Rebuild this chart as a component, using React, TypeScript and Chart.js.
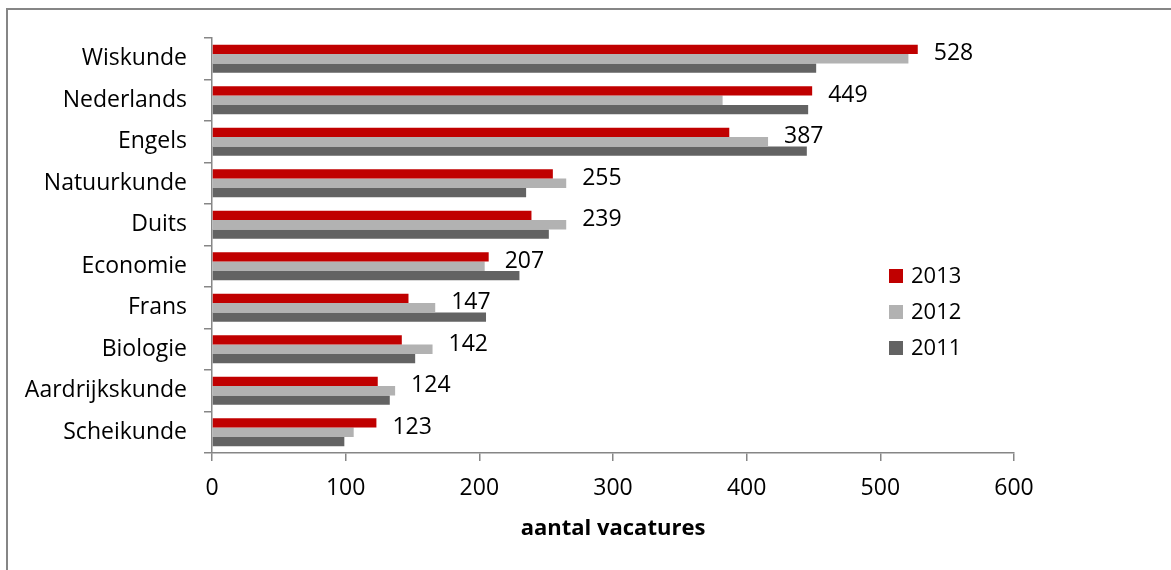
import React, { useEffect, useRef } from "react";
import { Chart, registerables } from "chart.js";

Chart.register(...registerables);

const categories = [
  "Wiskunde",
  "Nederlands",
  "Engels",
  "Natuurkunde",
  "Duits",
  "Economie",
  "Frans",
  "Biologie",
  "Aardrijkskunde",
  "Scheikunde",
];
const seriesLabels = ["2013", "2012", "2011"];
const values2013 = [528, 449, 387, 255, 239, 207, 147, 142, 124, 123];
const values2012 = [521, 382, 416, 265, 265, 204, 167, 165, 137, 106];
const values2011 = [452, 446, 445, 235, 252, 230, 205, 152, 133, 99];
const xTicks = [0, 100, 200, 300, 400, 500, 600];
const axisTitle = "aantal vacatures";

const COLORS = ["#C00000", "#B2B2B2", "#636363"];
const AXIS_COLOR = "#868686";
const FONT = "'Open Sans', Lato, sans-serif";
const FS = 23;

const framePlugin = {
  id: "frame",
  beforeDraw(chart: any) {
    const ctx = chart.ctx;
    ctx.save();
    ctx.fillStyle = "#ffffff";
    ctx.fillRect(0, 0, chart.width, chart.height);
    ctx.strokeStyle = AXIS_COLOR;
    ctx.lineWidth = 2;
    ctx.beginPath();
    ctx.moveTo(7, chart.height);
    ctx.lineTo(7, 9);
    ctx.lineTo(chart.width, 9);
    ctx.stroke();
    ctx.restore();
  },
};

const labelsPlugin = {
  id: "valueLabels",
  afterDatasetsDraw(chart: any) {
    const ctx = chart.ctx;
    const m0 = chart.getDatasetMeta(0);
    const m1 = chart.getDatasetMeta(1);
    ctx.save();
    ctx.font = `${FS}px ${FONT}`;
    ctx.fillStyle = "#000";
    ctx.textAlign = "left";
    ctx.textBaseline = "middle";
    m0.data.forEach((el: any, i: number) => {
      const x = Math.max(el.x, m1.data[i].x) + 16;
      ctx.fillText(String(values2013[i]), x, el.y + 4);
    });
    ctx.restore();
  },
};

const legendPlugin = {
  id: "customLegend",
  afterDraw(chart: any) {
    const ctx = chart.ctx;
    ctx.save();
    ctx.font = `${FS - 1}px ${FONT}`;
    ctx.textAlign = "left";
    ctx.textBaseline = "middle";
    chart.data.datasets.forEach((ds: any, i: number) => {
      const cy = 276 + i * 36;
      ctx.fillStyle = ds.backgroundColor;
      ctx.fillRect(889, cy - 7, 14, 14);
      ctx.fillStyle = "#000";
      ctx.fillText(ds.label, 911, cy + 1);
    });
    ctx.restore();
  },
};

export default function App() {
  const ref = useRef<HTMLCanvasElement | null>(null);

  useEffect(() => {
    document.body.style.margin = "0";
    if (!ref.current) return;
    const chart = new Chart(ref.current, {
      type: "bar",
      data: {
        labels: categories,
        datasets: [
          { label: seriesLabels[0], data: values2013, backgroundColor: COLORS[0] },
          { label: seriesLabels[1], data: values2012, backgroundColor: COLORS[1] },
          { label: seriesLabels[2], data: values2011, backgroundColor: COLORS[2] },
        ],
      },
      options: {
        indexAxis: "y",
        responsive: false,
        animation: false,
        layout: { padding: { left: 0, top: 38, right: 157, bottom: 24 } },
        datasets: {
          bar: { categoryPercentage: 0.67, barPercentage: 1, borderWidth: 0 },
        },
        plugins: {
          legend: { display: false },
          tooltip: { enabled: false },
        },
        scales: {
          y: {
            type: "category",
            grid: {
              offset: true,
              drawOnChartArea: false,
              tickLength: 8,
              color: AXIS_COLOR,
              lineWidth: 1.5,
            },
            border: { color: AXIS_COLOR, width: 1.5 },
            ticks: {
              padding: 17,
              color: "#000",
              font: { family: FONT, size: FS },
            },
            afterFit: (s: any) => {
              s.width = 212;
            },
          },
          x: {
            type: "linear",
            min: 0,
            max: 600,
            afterBuildTicks: (s: any) => {
              s.ticks = xTicks.map((v) => ({ value: v }));
            },
            grid: {
              drawOnChartArea: false,
              tickLength: 8,
              color: AXIS_COLOR,
              lineWidth: 1.5,
            },
            border: { color: AXIS_COLOR, width: 1.5 },
            ticks: {
              padding: 14,
              color: "#000",
              font: { family: FONT, size: FS },
            },
            title: {
              display: true,
              text: axisTitle,
              color: "#000",
              font: { family: FONT, size: 22, weight: "bold" },
              padding: { top: 4, bottom: 4 },
            },
            afterFit: (s: any) => {
              s.height = 93;
            },
          },
        },
      },
      plugins: [framePlugin, labelsPlugin, legendPlugin],
    } as any);
    return () => chart.destroy();
  }, []);

  return (
    <div style={{ width: 1171, height: 570 }}>
      <canvas ref={ref} width={1171} height={570} style={{ display: "block" }} />
    </div>
  );
}
